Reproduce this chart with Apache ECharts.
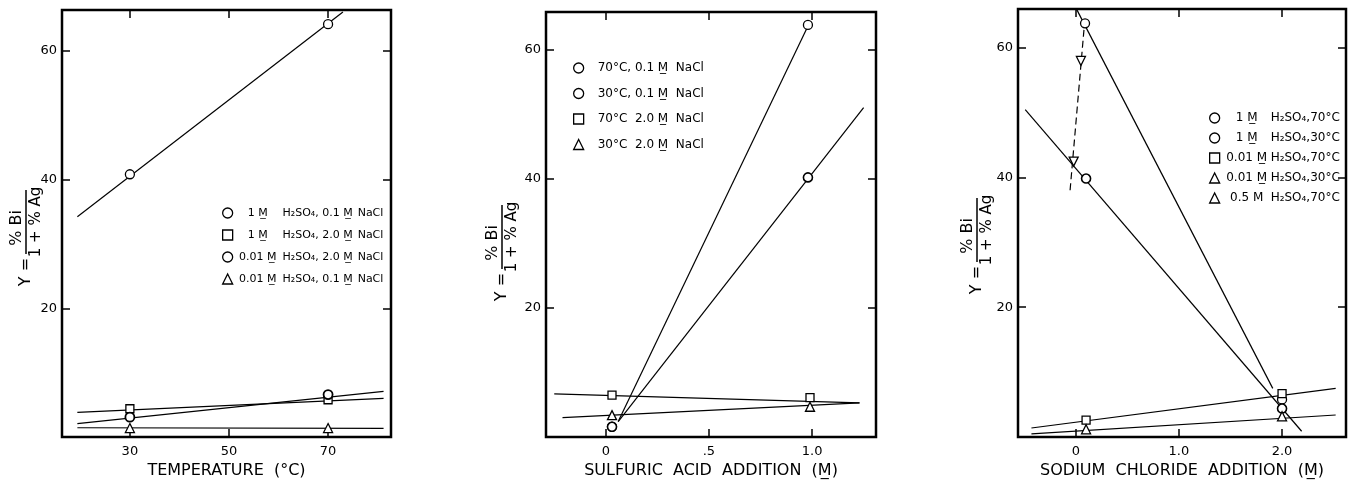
<!DOCTYPE html>
<html><head><meta charset="utf-8">
<script src="https://cdn.jsdelivr.net/npm/echarts@6/dist/echarts.min.js"></script>
<style>html,body{margin:0;padding:0;background:#fff}#c{width:1356px;height:484px}</style>
</head><body><div id="c"></div>
<script>
const FONT = 'DejaVu Sans';
const U = 'M\u0332'; // underlined M

// ---------- shared y axis ----------
const yTicks = [20, 40, 60];
const yTickLabels = ['20', '40', '60'];

// ---------- Panel 1: temperature ----------
const tempTicks = [30, 50, 70];
const tempTickLabels = ['30', '50', '70'];
const p1Names = ['1 M H2SO4, 0.1 M NaCl', '1 M H2SO4, 2.0 M NaCl', '0.01 M H2SO4, 2.0 M NaCl', '0.01 M H2SO4, 0.1 M NaCl'];
const p1Conc = ['1 ' + U, '1 ' + U, '0.01 ' + U, '0.01 ' + U];
const p1Acid = ['H₂SO₄, 0.1 ' + U, 'H₂SO₄, 2.0 ' + U, 'H₂SO₄, 2.0 ' + U, 'H₂SO₄, 0.1 ' + U];
const p1aPts = [[30, 40.8], [70, 64.1]];
const p1aFit = [[19.4, 34.2], [73, 66]];
const p1bPts = [[30, 4.4], [70, 5.8]];
const p1bFit = [[19.4, 3.85], [81.2, 6.0]];
const p1cPts = [[30, 3.1], [70, 6.6]];
const p1cFit = [[19.4, 2.1], [81.2, 7.1]];
const p1dPts = [[30, 1.4], [70, 1.4]];
const p1dFit = [[19.4, 1.45], [81.2, 1.35]];

// ---------- Panel 2: sulfuric acid ----------
const acidTicks = [0, 0.5, 1.0];
const acidTickLabels = ['0', '.5', '1.0'];
const p2Names = ['70°C, 0.1 M NaCl', '30°C, 0.1 M NaCl', '70°C 2.0 M NaCl', '30°C 2.0 M NaCl'];
const p2Labels = ['70°C, 0.1 ' + U + '  NaCl', '30°C, 0.1 ' + U + '  NaCl', '70°C  2.0 ' + U + '  NaCl', '30°C  2.0 ' + U + '  NaCl'];
const p2aPts = [[0.03, 1.6], [0.98, 63.8]];
const p2aFit = [[0.06, 2.4], [0.975, 63.3]];
const p2bPts = [[0.03, 1.6], [0.98, 40.2]];
const p2bFit = [[0.06, 2.4], [1.25, 51]];
const p2cPts = [[0.03, 6.5], [0.99, 6.1]];
const p2cFit = [[-0.25, 6.7], [1.23, 5.3]];
const p2dPts = [[0.03, 3.4], [0.99, 4.7]];
const p2dFit = [[-0.21, 3.0], [1.23, 5.3]];

// ---------- Panel 3: sodium chloride ----------
const naclTicks = [0, 1.0, 2.0];
const naclTickLabels = ['0', '1.0', '2.0'];
const p3Names = ['1 M H2SO4,70°C', '1 M H2SO4,30°C', '0.01 M H2SO4,70°C', '0.01 M H2SO4,30°C', '0.5 M H2SO4,70°C'];
const p3Conc = ['1 ' + U, '1 ' + U, '0.01 ' + U, '0.01 ' + U, '0.5 M'];
const p3Acid = ['H₂SO₄,70°C', 'H₂SO₄,30°C', 'H₂SO₄,70°C', 'H₂SO₄,30°C', 'H₂SO₄,70°C'];
const p3aPts = [[0.09, 63.7], [2.0, 5.8]];
const p3aFit = [[0.01, 65.8], [1.91, 7.5]];
const p3bPts = [[0.1, 39.8], [2.0, 4.4]];
const p3bFit = [[-0.49, 50.4], [2.19, 0.9]];
const p3cPts = [[0.1, 2.6], [2.0, 6.7]];
const p3cFit = [[-0.43, 1.4], [2.52, 7.5]];
const p3dPts = [[0.1, 1.2], [2.0, 3.2]];
const p3dFit = [[-0.43, 0.5], [2.52, 3.4]];
const p3ePts = [[-0.02, 42.4], [0.05, 57.9]];
const p3eFit = [[-0.055, 38], [0.085, 63.7]];

// ---------- helpers ----------
function fit(data, gi, dashed) {
  return { type: 'line', data, xAxisIndex: gi * 2, yAxisIndex: gi * 2, symbol: 'none', silent: true, z: 2,
    lineStyle: { color: '#000', width: 1.2, type: dashed ? [7, 4] : 'solid' } };
}
function marks(name, data, gi, symbol, opts) {
  opts = opts || {};
  return { type: 'scatter', name, data, xAxisIndex: gi * 2, yAxisIndex: gi * 2, z: 4,
    symbol, symbolSize: opts.size || 9, symbolRotate: opts.rotate || 0,
    itemStyle: { color: '#fff', borderColor: '#000', borderWidth: opts.bw || 1.3, opacity: 1 } };
}
function lab(ticks, labels) {
  return v => { const i = ticks.findIndex(t => Math.abs(t - v) < 1e-9); return i >= 0 ? labels[i] : ''; };
}
const tickStyle = { color: '#000', width: 1.5 };
function xAxes(gi, min, max, ticks, labels, title) {
  return [
    { gridIndex: gi, type: 'value', min, max, position: 'bottom',
      axisLine: { show: false, onZero: false }, splitLine: { show: false },
      axisTick: { show: true, inside: true, length: 8, customValues: ticks, lineStyle: tickStyle },
      axisLabel: { customValues: ticks, formatter: lab(ticks, labels), color: '#000', fontSize: 13, fontFamily: FONT, margin: 8 },
      name: title, nameLocation: 'middle', nameGap: 25,
      nameTextStyle: { color: '#000', fontSize: 16, fontFamily: FONT } },
    { gridIndex: gi, type: 'value', min, max, position: 'top',
      axisLine: { show: false, onZero: false }, splitLine: { show: false },
      axisTick: { show: true, inside: true, length: 8, customValues: ticks, lineStyle: tickStyle },
      axisLabel: { show: false } }
  ];
}
function yAxes(gi, max) {
  return [
    { gridIndex: gi, type: 'value', min: 0, max, position: 'left',
      axisLine: { show: false, onZero: false }, splitLine: { show: false },
      axisTick: { show: true, inside: true, length: 8, customValues: yTicks, lineStyle: tickStyle },
      axisLabel: { customValues: yTicks, formatter: lab(yTicks, yTickLabels), color: '#000', fontSize: 13, fontFamily: FONT, margin: 5 } },
    { gridIndex: gi, type: 'value', min: 0, max, position: 'right',
      axisLine: { show: false, onZero: false }, splitLine: { show: false },
      axisTick: { show: true, inside: true, length: 8, customValues: yTicks, lineStyle: tickStyle },
      axisLabel: { show: false } }
  ];
}
function yTitle(cx, cy) {
  const ts = (text, x, y, size) => ({ type: 'text', x, y, style: { text, fill: '#000', font: size + 'px "' + FONT + '"', align: 'center', verticalAlign: 'middle' } });
  return { type: 'group', x: cx, y: cy, rotation: Math.PI / 2, silent: true, children: [
    ts('Y =', -50, 0, 16),
    { type: 'line', shape: { x1: -32, y1: 0, x2: 32, y2: 0 }, style: { stroke: '#000', lineWidth: 1.5 } },
    ts('% Bi', -6, -9, 16),
    ts('1 + % Ag', 0, 10, 15)
  ] };
}
function richOf(size) { return { fontFamily: FONT, fontSize: size, color: '#000', lineHeight: 14 }; }
function legendBox(names, left, top, gap, formatter, size, rich) {
  return { data: names, orient: 'vertical', left, top, itemGap: gap, itemWidth: 10, itemHeight: 10, padding: 0,
    selectedMode: false, formatter, itemStyle: { borderWidth: 1.3, borderColor: '#000' },
    textStyle: Object.assign({}, richOf(size), { rich }) };
}
const r11 = richOf(11), r12 = richOf(12);

const option = {
  animation: false,
  backgroundColor: '#fff',
  grid: [
    { left: 62, top: 10, width: 329, height: 432, show: true, borderColor: '#000', borderWidth: 2.5 },
    { left: 546, top: 12, width: 330, height: 431, show: true, borderColor: '#000', borderWidth: 2.5 },
    { left: 1018, top: 9, width: 328, height: 433, show: true, borderColor: '#000', borderWidth: 2.5 }
  ],
  xAxis: [
    ...xAxes(0, 16.3, 82.7, tempTicks, tempTickLabels, 'TEMPERATURE  (°C)'),
    ...xAxes(1, -0.29, 1.31, acidTicks, acidTickLabels, 'SULFURIC  ACID  ADDITION  (' + U + ')'),
    ...xAxes(2, -0.56, 2.62, naclTicks, naclTickLabels, 'SODIUM  CHLORIDE  ADDITION  (' + U + ')')
  ],
  yAxis: [...yAxes(0, 66.3), ...yAxes(1, 65.8), ...yAxes(2, 65.9)],
  legend: [
    legendBox(p1Names, 222, 206, 8, n => { const i = p1Names.indexOf(n); return '{c|' + p1Conc[i] + '}{a|' + p1Acid[i] + '}{n|NaCl}'; }, 11,
      { c: Object.assign({}, r11, { width: 40, align: 'center' }), a: Object.assign({}, r11, { width: 80 }), n: r11 }),
    legendBox(p2Names, 573, 61, 11.5, n => '{t|' + p2Labels[p2Names.indexOf(n)] + '}', 12,
      { t: Object.assign({}, r12, { padding: [0, 0, 0, 9] }) }),
    legendBox(p3Names, 1209, 111, 6, n => { const i = p3Names.indexOf(n); return '{c|' + p3Conc[i] + '}{a|' + p3Acid[i] + '}'; }, 12,
      { c: Object.assign({}, r12, { width: 44, align: 'center' }), a: Object.assign({}, r12, { padding: [0, 0, 0, 2] }) })
  ],
  graphic: [yTitle(26, 222), yTitle(502, 237), yTitle(977, 230)],
  series: [
    fit(p1aFit, 0), fit(p1bFit, 0), fit(p1cFit, 0), fit(p1dFit, 0),
    marks(p1Names[0], p1aPts, 0, 'circle'),
    marks(p1Names[1], p1bPts, 0, 'rect', { size: 8 }),
    marks(p1Names[2], p1cPts, 0, 'circle', { bw: 1.8 }),
    marks(p1Names[3], p1dPts, 0, 'triangle'),
    fit(p2aFit, 1), fit(p2bFit, 1), fit(p2cFit, 1), fit(p2dFit, 1),
    marks(p2Names[0], p2aPts, 1, 'circle'),
    marks(p2Names[1], p2bPts, 1, 'circle', { bw: 1.6 }),
    marks(p2Names[2], p2cPts, 1, 'rect', { size: 8 }),
    marks(p2Names[3], p2dPts, 1, 'triangle'),
    fit(p3aFit, 2), fit(p3bFit, 2), fit(p3cFit, 2), fit(p3dFit, 2), fit(p3eFit, 2, true),
    marks(p3Names[0], p3aPts, 2, 'circle'),
    marks(p3Names[1], p3bPts, 2, 'circle', { bw: 1.6 }),
    marks(p3Names[2], p3cPts, 2, 'rect', { size: 8 }),
    marks(p3Names[3], p3dPts, 2, 'triangle'),
    marks(p3Names[4], p3ePts, 2, 'triangle', { rotate: 180 })
  ]
};
echarts.init(document.getElementById('c')).setOption(option);
</script></body></html>
